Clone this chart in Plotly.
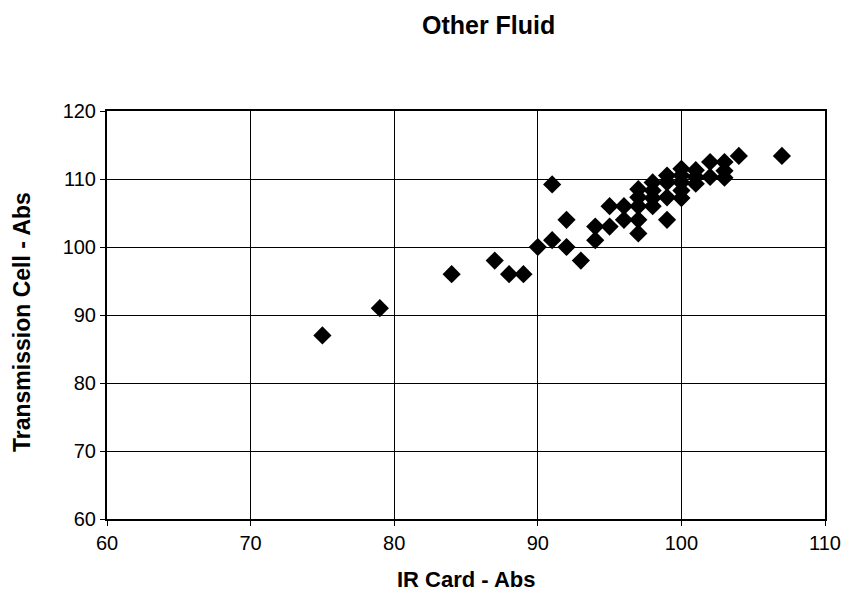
import plotly.graph_objects as go

# IR card absorbance vs transmission cell absorbance
ir_card = [75, 79, 84, 87, 88, 89, 90, 91, 91, 92, 92, 93, 94, 94, 95, 95, 96, 96,
           97, 97, 97, 97, 97, 98, 98, 98, 98, 99, 99, 99, 99,
           100, 100, 100, 100, 100, 101, 101, 101, 102, 102, 103, 103, 103, 104, 107]
trans_cell = [87, 91, 96, 98, 96, 96, 100, 109.2, 101, 104, 100, 98, 103, 101, 106, 103, 106, 104,
              108.5, 107.3, 106, 104, 102, 109.5, 108.3, 107.2, 106, 110.5, 109.5, 107.3, 104,
              111.5, 110.5, 109.5, 108.3, 107.2, 111.3, 110.3, 109.3, 112.5, 110.3, 112.5, 111.2, 110.2,
              113.4, 113.4]

x_ticks = [60, 70, 80, 90, 100, 110]
y_ticks = [60, 70, 80, 90, 100, 110, 120]

FONT = "Liberation Sans, Arial, sans-serif"

fig = go.Figure()
fig.add_trace(go.Scatter(
    x=ir_card,
    y=trans_cell,
    mode="markers",
    marker=dict(symbol="diamond", size=14, color="black"),
    showlegend=False,
))

axis_common = dict(
    showgrid=True,
    gridcolor="black",
    gridwidth=1,
    showline=True,
    linecolor="black",
    linewidth=2,
    mirror=True,
    ticks="outside",
    ticklen=5,
    tickcolor="black",
    zeroline=False,
    automargin=False,
    tickfont=dict(family=FONT, size=20, color="black"),
)

# page body has an 8px margin, so the figure is sized to fit 849x599 with it
fig.update_layout(
    width=833,
    height=583,
    paper_bgcolor="white",
    plot_bgcolor="white",
    margin=dict(l=99, r=16, t=103, b=72),
    title=dict(text="<b>Other Fluid</b>", x=0.577, xanchor="center", y=0.971, yanchor="middle",
               font=dict(family=FONT, size=25, color="black")),
    xaxis=dict(axis_common, range=[60, 110], tickvals=x_ticks),
    yaxis=dict(axis_common, range=[60, 120], tickvals=y_ticks),
    annotations=[
        dict(text="<b>IR Card - Abs</b>", xref="paper", yref="paper", x=0.5, y=0,
             xanchor="center", yanchor="middle", yshift=-60, showarrow=False,
             font=dict(family=FONT, size=22, color="black")),
        dict(text="<b>Transmission Cell - Abs</b>", xref="paper", yref="paper", x=0, y=0.5,
             xanchor="center", yanchor="middle", xshift=-85, yshift=-7, textangle=-90,
             showarrow=False, font=dict(family=FONT, size=23, color="black")),
    ],
)

fig.write_html("out.html")
